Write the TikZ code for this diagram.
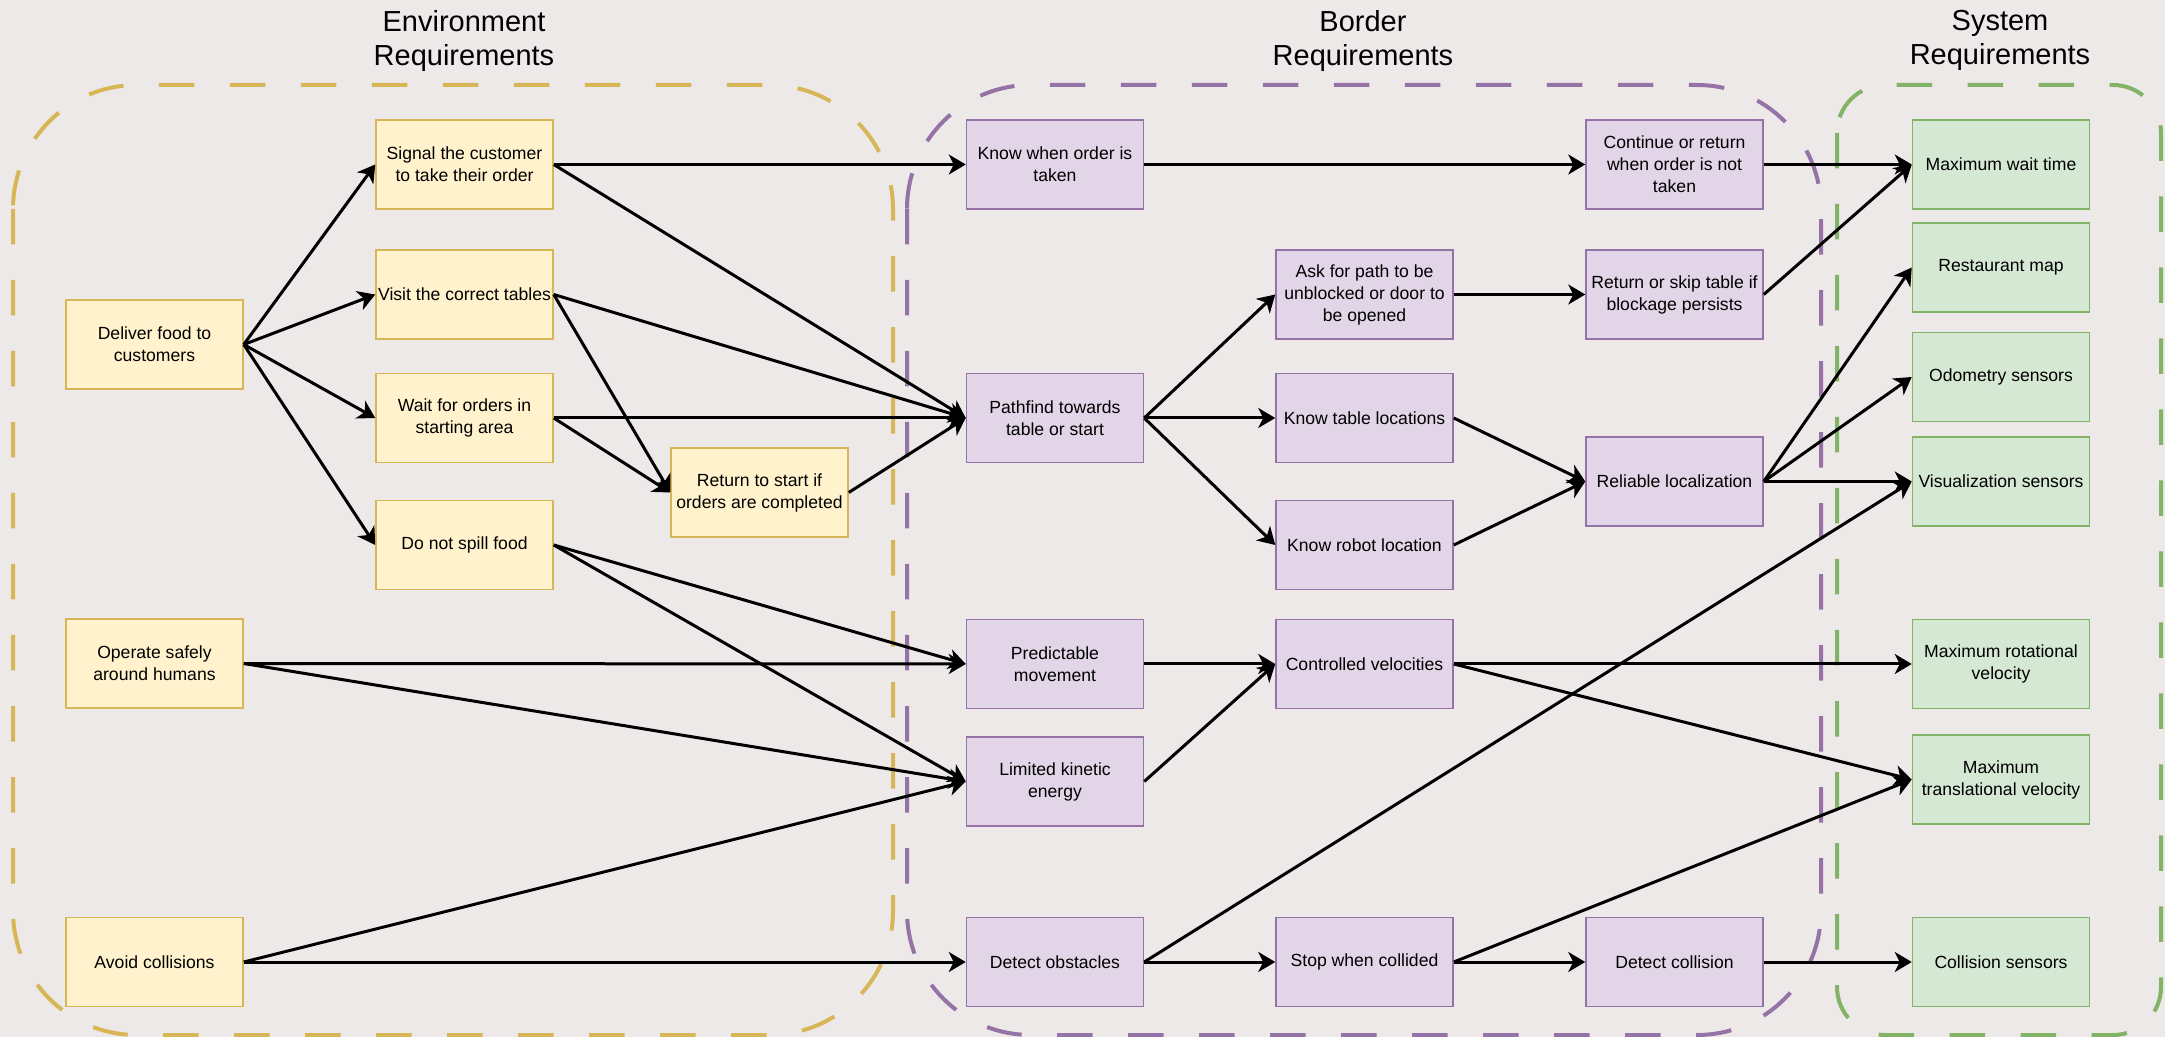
\documentclass[tikz,border=0pt]{standalone}
\usepackage{fontspec}
\setmainfont{Liberation Sans}
\usepackage{tikz}
\usetikzlibrary{arrows.meta}
\definecolor{bgcol}{RGB}{238,233,233}
\definecolor{envfill}{HTML}{FFF2CC}
\definecolor{envline}{HTML}{D6B656}
\definecolor{bdrfill}{HTML}{E1D5E7}
\definecolor{bdrline}{HTML}{9673A6}
\definecolor{sysfill}{HTML}{D5E8D4}
\definecolor{sysline}{HTML}{82B366}
\tikzset{
  req/.style     ={rectangle, line width=0.75pt, align=center, inner sep=0.5pt,
                   minimum width=88.5pt, minimum height=44.5pt,
                   font=\fontsize{8.8}{11}\selectfont},
  env/.style     ={req, fill=envfill, draw=envline},
  bdr/.style     ={req, fill=bdrfill, draw=bdrline},
  sys/.style     ={req, fill=sysfill, draw=sysline},
  group/.style   ={line width=2pt, dash pattern=on 17.75pt off 17.75pt},
  grptitle/.style={align=center, anchor=north, inner sep=0pt,
                   font=\fontsize{14.5}{17}\selectfont},
  flow/.style    ={-{Stealth[length=8.5pt, width=10pt, inset=2.5pt]}, line width=1.5pt},
}
\begin{document}
\begin{tikzpicture}[x=0.5pt, y=-0.5pt]
    \fill[bgcol] (0,0) rectangle (2165,1037);
    \useasboundingbox (0,0) rectangle (2165,1037);

    \draw[group, draw=envline, rounded corners=62pt] (13,85) rectangle (893,1035);
    \draw[group, draw=bdrline, rounded corners=62pt] (907,85) rectangle (1821,1035);
    \draw[group, draw=sysline, rounded corners=24pt] (1837,85) rectangle (2161,1035);

    \node[grptitle] (envtitle) at (464,10) {Environment\\Requirements};
    \node[grptitle] (bdrtitle) at (1363,10) {Border\\Requirements};
    \node[grptitle] (systitle) at (2000,10) {System\\Requirements};

    \node[env] (deliver)  at (154.5,344.5) {Deliver food to\\customers};
    \node[env] (operate)  at (154.5,663.5) {Operate safely\\around humans};
    \node[env] (avoid)    at (154.5,962)   {Avoid collisions};
    \node[env] (signal)   at (464.5,164.5) {Signal the customer\\to take their order};
    \node[env] (visit)    at (464.5,294.5) {Visit the correct tables};
    \node[env] (waitord)  at (464.5,418)   {Wait for orders in\\starting area};
    \node[env] (nospill)  at (464.5,545)   {Do not spill food};
    \node[env] (retstart) at (759.5,492.5) {Return to start if\\orders are completed};

    \node[bdr] (knowtaken) at (1055,164.5) {Know when order is\\taken};
    \node[bdr] (pathfind)  at (1055,418)   {Pathfind towards\\table or start};
    \node[bdr] (predict)   at (1055,664)   {Predictable\\movement};
    \node[bdr] (kinetic)   at (1055,781.5) {Limited kinetic\\energy};
    \node[bdr] (detobs)    at (1055,962)   {Detect obstacles};
    \node[bdr] (askpath)   at (1364.5,294.5) {Ask for path to be\\unblocked or door to\\be opened};
    \node[bdr] (tableloc)  at (1364.5,418)   {Know table locations};
    \node[bdr] (robotloc)  at (1364.5,545)   {Know robot location};
    \node[bdr] (ctrlvel)   at (1364.5,664)   {Controlled velocities};
    \node[bdr] (stopcoll)  at (1364.5,962)   {Stop when collided};
    \node[bdr] (contret)   at (1674.5,164.5) {Continue or return\\when order is not\\taken};
    \node[bdr] (retskip)   at (1674.5,294.5) {Return or skip table if\\blockage persists};
    \node[bdr] (reliable)  at (1674.5,481.5) {Reliable localization};
    \node[bdr] (detcoll)   at (1674.5,962)   {Detect collision};

    \node[sys] (maxwait)  at (2001,164.5) {Maximum wait time};
    \node[sys] (map)      at (2001,267.5) {Restaurant map};
    \node[sys] (odom)     at (2001,377)   {Odometry sensors};
    \node[sys] (vis)      at (2001,481.5) {Visualization sensors};
    \node[sys] (maxrot)   at (2001,664)   {Maximum rotational\\velocity};
    \node[sys] (maxtrans) at (2001,779.5) {Maximum\\translational velocity};
    \node[sys] (collsens) at (2001,962)   {Collision sensors};

    \foreach \a/\b in {deliver/signal, deliver/visit, deliver/waitord, deliver/nospill,
                       signal/knowtaken, signal/pathfind, visit/pathfind, visit/retstart,
                       waitord/pathfind, waitord/retstart, retstart/pathfind,
                       nospill/predict, nospill/kinetic, operate/predict, operate/kinetic,
                       avoid/kinetic, avoid/detobs,
                       knowtaken/contret, contret/maxwait,
                       pathfind/askpath, pathfind/tableloc, pathfind/robotloc,
                       askpath/retskip, retskip/maxwait,
                       tableloc/reliable, robotloc/reliable,
                       reliable/map, reliable/odom, reliable/vis,
                       predict/ctrlvel, kinetic/ctrlvel, ctrlvel/maxrot, ctrlvel/maxtrans,
                       detobs/vis, detobs/stopcoll, stopcoll/detcoll, stopcoll/maxtrans,
                       detcoll/collsens}
        \draw[flow] (\a.east) -- (\b.west);
\end{tikzpicture}
\end{document}
